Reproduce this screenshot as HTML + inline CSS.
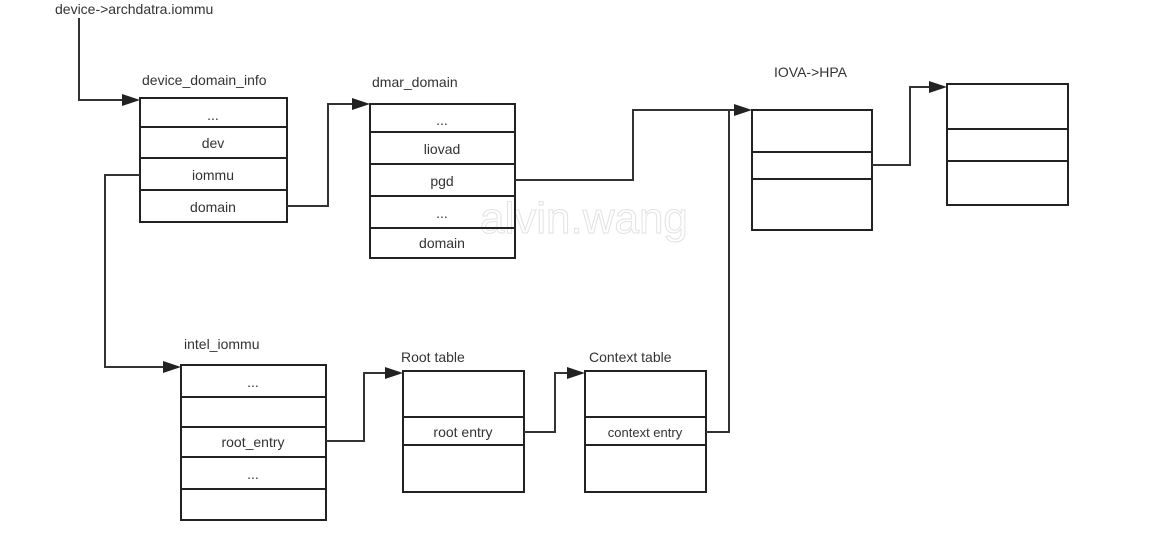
<!DOCTYPE html>
<html><head><meta charset="utf-8"><style>
html,body{margin:0;padding:0;background:#fff;}
svg{display:block;}
text{font-family:"Liberation Sans",sans-serif;font-size:14px;fill:#333;}
</style></head><body>
<svg width="1163" height="542" viewBox="0 0 1163 542" xmlns="http://www.w3.org/2000/svg">
<defs><marker id="a" markerWidth="10" markerHeight="10" refX="9" refY="5" orient="auto" markerUnits="userSpaceOnUse"><path d="M0,0 L18,5 L0,10 z" transform="scale(0.5,1)"/></marker></defs>
<text x="480" y="233" style="font-size:44px;fill:none;stroke:#e2e2e2;stroke-width:1">alvin.wang</text>
<g fill="none" stroke="#222" stroke-width="2">
<rect x="140" y="98" width="147" height="124"/>
<path d="M140 127H287M140 158H287M140 190H287"/>
<rect x="370" y="104" width="145" height="154"/>
<path d="M370 132H515M370 164H515M370 196H515M370 228H515"/>
<rect x="752" y="110" width="120" height="120"/>
<path d="M752 152H872M752 179H872"/>
<rect x="947" y="84" width="121" height="121"/>
<path d="M947 129H1068M947 161H1068"/>
<rect x="181" y="365" width="145" height="155"/>
<path d="M181 397H326M181 427H326M181 457H326M181 489H326"/>
<rect x="403" y="371" width="121" height="121"/>
<path d="M403 417H524M403 445H524"/>
<rect x="585" y="371" width="121" height="121"/>
<path d="M585 417H706M585 445H706"/>
</g>
<g fill="none" stroke="#333" stroke-width="2">
<path d="M79 18V100H128"/>
<path d="M287 206H328V104H358"/>
<path d="M140 175H105V367H169"/>
<path d="M515 180H633V110H740"/>
<path d="M872 165H910V87H935"/>
<path d="M326 441H364V373H391"/>
<path d="M524 432H555V373H573"/>
<path d="M706 432H729V110"/>
</g>
<g fill="#222">
<path d="M140 100l-18-6v12z"/>
<path d="M370 104l-18-6v12z"/>
<path d="M181 367l-18-6v12z"/>
<path d="M752 110l-18-6v12z"/>
<path d="M947 87l-18-6v12z"/>
<path d="M403 373l-18-6v12z"/>
<path d="M585 373l-18-6v12z"/>
</g>
<text x="55" y="14">device-&gt;archdatra.iommu</text>
<text x="142" y="85">device_domain_info</text>
<text x="372" y="87">dmar_domain</text>
<text x="774" y="77">IOVA-&gt;HPA</text>
<text x="184" y="349">intel_iommu</text>
<text x="401" y="362">Root table</text>
<text x="589" y="362">Context table</text>
<g text-anchor="middle">
<text x="213" y="120">...</text>
<text x="213" y="148">dev</text>
<text x="213" y="180">iommu</text>
<text x="213" y="212">domain</text>
<text x="442" y="125">...</text>
<text x="442" y="154">liovad</text>
<text x="442" y="186">pgd</text>
<text x="442" y="218">...</text>
<text x="442" y="248">domain</text>
<text x="253" y="387">...</text>
<text x="253" y="447">root_entry</text>
<text x="253" y="479">...</text>
<text x="463" y="437">root entry</text>
<text x="645" y="437" style="font-size:13px">context entry</text>
</g>
</svg>
</body></html>
